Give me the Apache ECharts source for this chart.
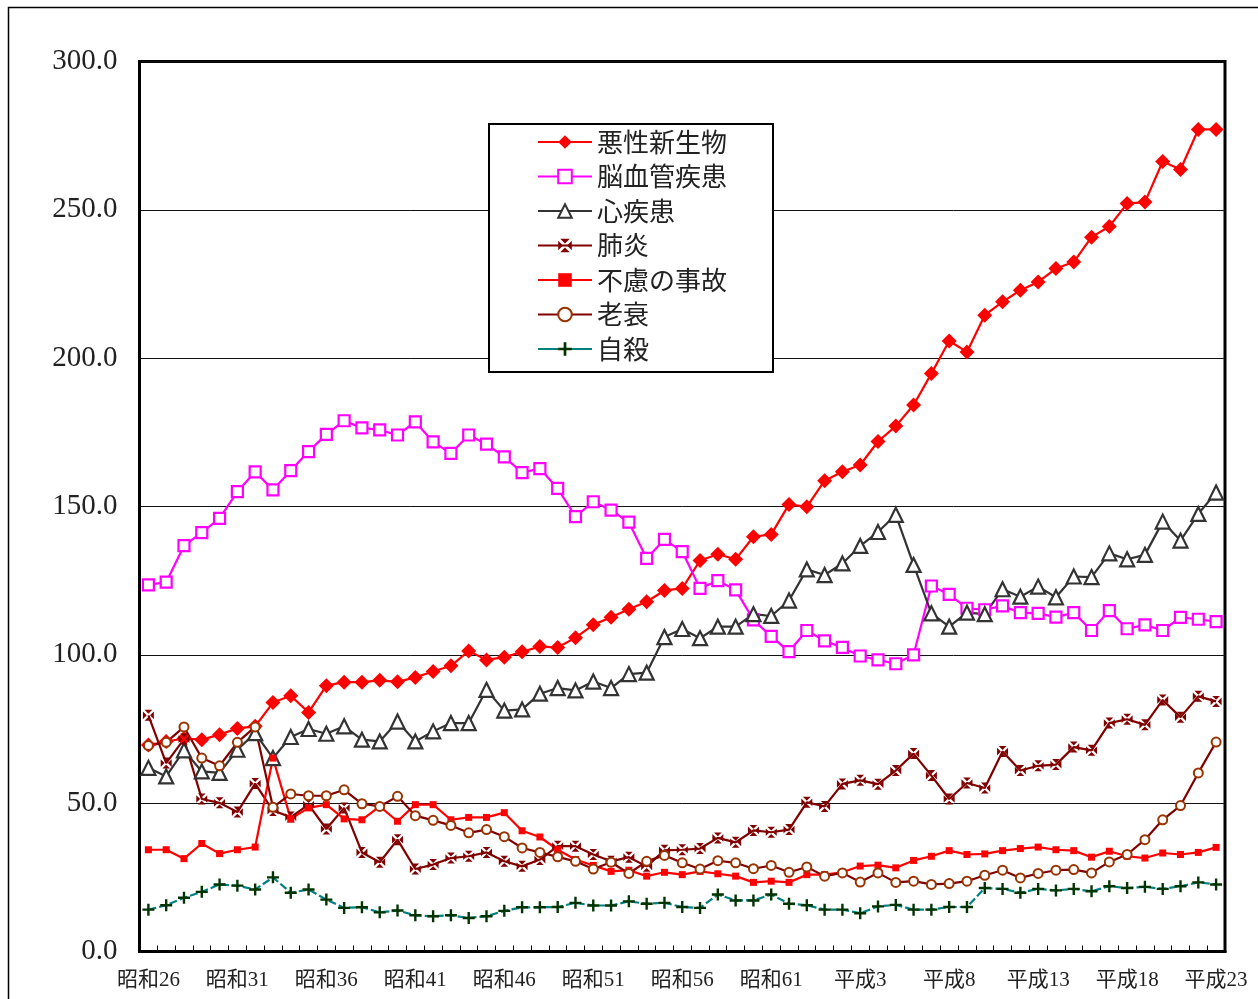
<!DOCTYPE html>
<html>
<head>
<meta charset="utf-8">
<script src="https://cdn.jsdelivr.net/npm/echarts@6/dist/echarts.min.js"></script>
<style>
html,body{margin:0;padding:0;background:#fff;}
#chart{width:1258px;height:999px;}
</style>
</head>
<body>
<div id="chart"></div>
<script>
const categories = [
 '昭和26','昭和27','昭和28','昭和29','昭和30','昭和31','昭和32','昭和33','昭和34','昭和35',
 '昭和36','昭和37','昭和38','昭和39','昭和40','昭和41','昭和42','昭和43','昭和44','昭和45',
 '昭和46','昭和47','昭和48','昭和49','昭和50','昭和51','昭和52','昭和53','昭和54','昭和55',
 '昭和56','昭和57','昭和58','昭和59','昭和60','昭和61','昭和62','昭和63','平成元','平成2',
 '平成3','平成4','平成5','平成6','平成7','平成8','平成9','平成10','平成11','平成12',
 '平成13','平成14','平成15','平成16','平成17','平成18','平成19','平成20','平成21','平成22','平成23'
];
const seriesNames = ['悪性新生物','脳血管疾患','心疾患','肺炎','不慮の事故','老衰','自殺'];
const cancer = [69.6,70.8,71.8,71.4,73.1,75.2,75.9,83.9,86.2,80.6,89.6,90.8,90.8,91.4,90.9,92.4,94.4,96.3,101.3,98.3,99.2,101.0,102.8,102.5,105.8,110.1,112.7,115.4,117.9,121.7,122.4,131.8,133.9,132.2,139.8,140.6,150.7,149.9,158.7,161.7,164.0,171.9,177.1,184.2,194.8,205.8,202.1,214.5,219.0,222.9,225.7,230.2,232.4,240.8,244.4,252.1,252.6,266.3,263.6,277.1,277.1];
const cerebro = [123.6,124.5,136.8,141.2,146.0,155.0,161.7,155.6,162.1,168.5,174.3,178.9,176.5,175.8,174.1,178.5,171.8,167.9,174.1,171.0,166.7,161.4,162.8,156.1,146.6,151.6,148.8,144.7,132.5,138.9,134.8,122.4,125.0,121.9,111.8,106.2,101.1,108.2,104.7,102.5,99.6,98.3,97.0,100.0,123.2,120.4,115.7,115.2,116.5,114.2,114.0,112.7,114.2,108.2,114.9,108.8,110.1,108.2,112.6,112.0,111.2];
const heart = [61.9,59.0,67.8,60.7,60.2,68.0,73.6,65.2,72.3,75.0,73.4,75.9,71.4,70.8,77.5,70.8,74.2,77.0,77.0,88.2,81.2,81.6,86.9,88.8,88.0,91.0,88.8,93.5,94.0,106.0,108.7,105.6,109.5,109.5,113.7,113.1,118.3,128.8,126.9,130.8,136.7,141.4,147.2,130.3,114.0,109.5,114.2,113.7,122.1,119.6,123.0,119.4,126.4,126.2,134.2,132.2,133.7,144.9,138.5,147.5,154.7];
const pneumonia = [79.6,63.5,71.6,51.4,50.1,47.0,56.6,47.5,45.3,49.5,41.3,48.4,33.4,30.1,37.7,27.8,29.3,31.5,32.1,33.4,30.4,28.7,31.0,35.5,35.5,32.7,30.4,31.8,28.7,34.1,34.3,34.7,38.3,36.8,40.8,40.2,41.1,50.3,48.9,56.5,57.7,56.4,61.0,66.7,59.3,51.4,56.8,55.1,67.4,61.0,62.6,63.0,68.9,67.8,77.0,78.3,76.4,84.8,79.0,86.0,84.3];
const accident = [34.3,34.3,31.3,36.4,33.0,34.3,35.2,65.2,44.7,48.4,49.5,44.7,44.4,48.9,43.9,49.5,49.5,44.4,45.2,45.2,46.8,40.7,38.6,34.3,31.0,29.0,27.0,27.4,25.4,26.7,25.9,27.0,26.2,25.4,23.3,23.7,23.3,25.9,25.9,26.7,28.8,29.1,28.2,30.7,32.1,34.0,32.7,32.9,34.0,34.7,35.2,34.3,34.0,31.8,33.8,32.1,31.5,33.2,32.7,33.4,35.1];
const senility = [69.4,70.5,75.7,65.2,62.6,70.5,75.7,48.6,53.1,52.5,52.5,54.5,49.8,48.9,52.3,45.8,44.2,42.5,40.0,41.1,38.7,34.9,33.4,31.9,30.4,27.8,30.1,26.3,30.4,32.4,29.9,27.8,30.6,29.9,27.9,29.0,26.7,28.5,25.4,26.5,23.4,26.5,23.3,23.7,22.6,22.9,23.7,25.7,27.4,24.8,26.3,27.4,27.6,26.5,30.2,32.7,37.7,44.4,49.2,60.2,70.6];
const suicide = [14.1,15.6,18.1,20.1,22.6,22.2,20.9,25.0,19.8,20.9,17.5,14.7,14.9,13.2,13.8,12.2,11.9,12.2,11.3,11.9,13.7,14.9,14.9,15.0,16.4,15.5,15.5,16.9,16.1,16.4,15.0,14.7,19.2,17.2,17.2,19.2,16.1,15.6,14.1,14.1,12.9,15.2,15.7,14.1,14.1,15.0,15.0,21.4,21.1,19.8,21.1,20.6,21.1,20.3,22.0,21.4,21.8,21.1,22.0,23.3,22.6];
const yTicks = [0, 50, 100, 150, 200, 250, 300];

const xSymbol = 'path://M1.5,0L8.5,0L5,3.5Z M10,1.5L10,8.5L6.5,5Z M1.5,10L8.5,10L5,6.5Z M0,1.5L0,8.5L3.5,5Z';
const plusSymbol = 'path://M4,0L6,0L6,4L10,4L10,6L6,6L6,10L4,10L4,6L0,6L0,4L4,4Z';

const base = {type: 'line', showAllSymbol: true, symbolKeepAspect: true};

const chart = echarts.init(document.getElementById('chart'), null, {renderer:'canvas'});
const option = {
  backgroundColor: '#fff',
  animation: false,
  graphic: [{
    type: 'rect', silent: true, z: 0,
    shape: {x: 8.5, y: 7.5, width: 1400, height: 1200},
    style: {fill: 'none', stroke: '#000', lineWidth: 1.5}
  }],
  grid: {
    left: 139.5, top: 61.5, right: 33, bottom: 47.5,
    show: true, borderColor: '#000', borderWidth: 3, backgroundColor: '#fff'
  },
  legend: {
    orient: 'vertical', left: 489, top: 124,
    backgroundColor: '#fff', borderColor: '#000', borderWidth: 2,
    padding: [5, 46, 10, 48],
    itemWidth: 54, itemHeight: 17, itemGap: 8.5,
    textStyle: {fontSize: 26, lineHeight: 26, fontFamily: '"Noto Sans CJK JP"', color: '#222'},
    data: seriesNames.map((n, i) => i === 6 ? {name: n, lineStyle: {type: 'solid'}} : n)
  },
  xAxis: {
    type: 'category', data: categories, boundaryGap: true,
    axisLine: {show: true, lineStyle: {color: '#000', width: 3}},
    axisTick: {show: true, inside: true, length: 6, interval: 0, lineStyle: {color: '#000', width: 1}},
    axisLabel: {interval: 4, margin: 18, fontSize: 21, color: '#222',
      fontFamily: '"Liberation Serif", "Noto Sans CJK JP"'},
    splitLine: {show: false}
  },
  yAxis: {
    type: 'value', min: yTicks[0], max: yTicks[yTicks.length - 1], interval: 50,
    axisLine: {show: true, lineStyle: {color: '#000', width: 3}},
    axisTick: {show: false},
    axisLabel: {margin: 22, fontSize: 29, color: '#222', fontFamily: '"Liberation Serif"',
      formatter: v => v.toFixed(1)},
    splitLine: {show: true, lineStyle: {color: '#111', width: 1}}
  },
  series: [
    Object.assign({}, base, {name: seriesNames[0], data: cancer, symbol: 'diamond', symbolSize: 15,
      lineStyle: {color: '#FF0000', width: 2.2}, itemStyle: {color: '#FF0000'}}),
    Object.assign({}, base, {name: seriesNames[1], data: cerebro, symbol: 'rect', symbolSize: 11,
      lineStyle: {color: '#FF00FF', width: 2.2},
      itemStyle: {color: '#fff', borderColor: '#FF00FF', borderWidth: 2.2}}),
    Object.assign({}, base, {name: seriesNames[2], data: heart, symbol: 'triangle', symbolSize: 14,
      lineStyle: {color: '#333333', width: 2.2},
      itemStyle: {color: '#fff', borderColor: '#333333', borderWidth: 2.2}}),
    Object.assign({}, base, {name: seriesNames[3], data: pneumonia, symbol: xSymbol, symbolSize: 11,
      lineStyle: {color: '#800000', width: 2.2}, itemStyle: {color: '#800000'}}),
    Object.assign({}, base, {name: seriesNames[4], data: accident, symbol: 'rect', symbolSize: 7,
      lineStyle: {color: '#FF0000', width: 2.2}, itemStyle: {color: '#FF0000'}}),
    Object.assign({}, base, {name: seriesNames[5], data: senility, symbol: 'circle', symbolSize: 9,
      lineStyle: {color: '#800000', width: 2.2},
      itemStyle: {color: '#fff', borderColor: '#993300', borderWidth: 2}}),
    Object.assign({}, base, {name: seriesNames[6], data: suicide, symbol: plusSymbol, symbolSize: 12,
      lineStyle: {color: '#008080', width: 2.2, type: [8, 3]}, itemStyle: {color: '#003300'}})
  ]
};
chart.setOption(option);
</script>
</body>
</html>
